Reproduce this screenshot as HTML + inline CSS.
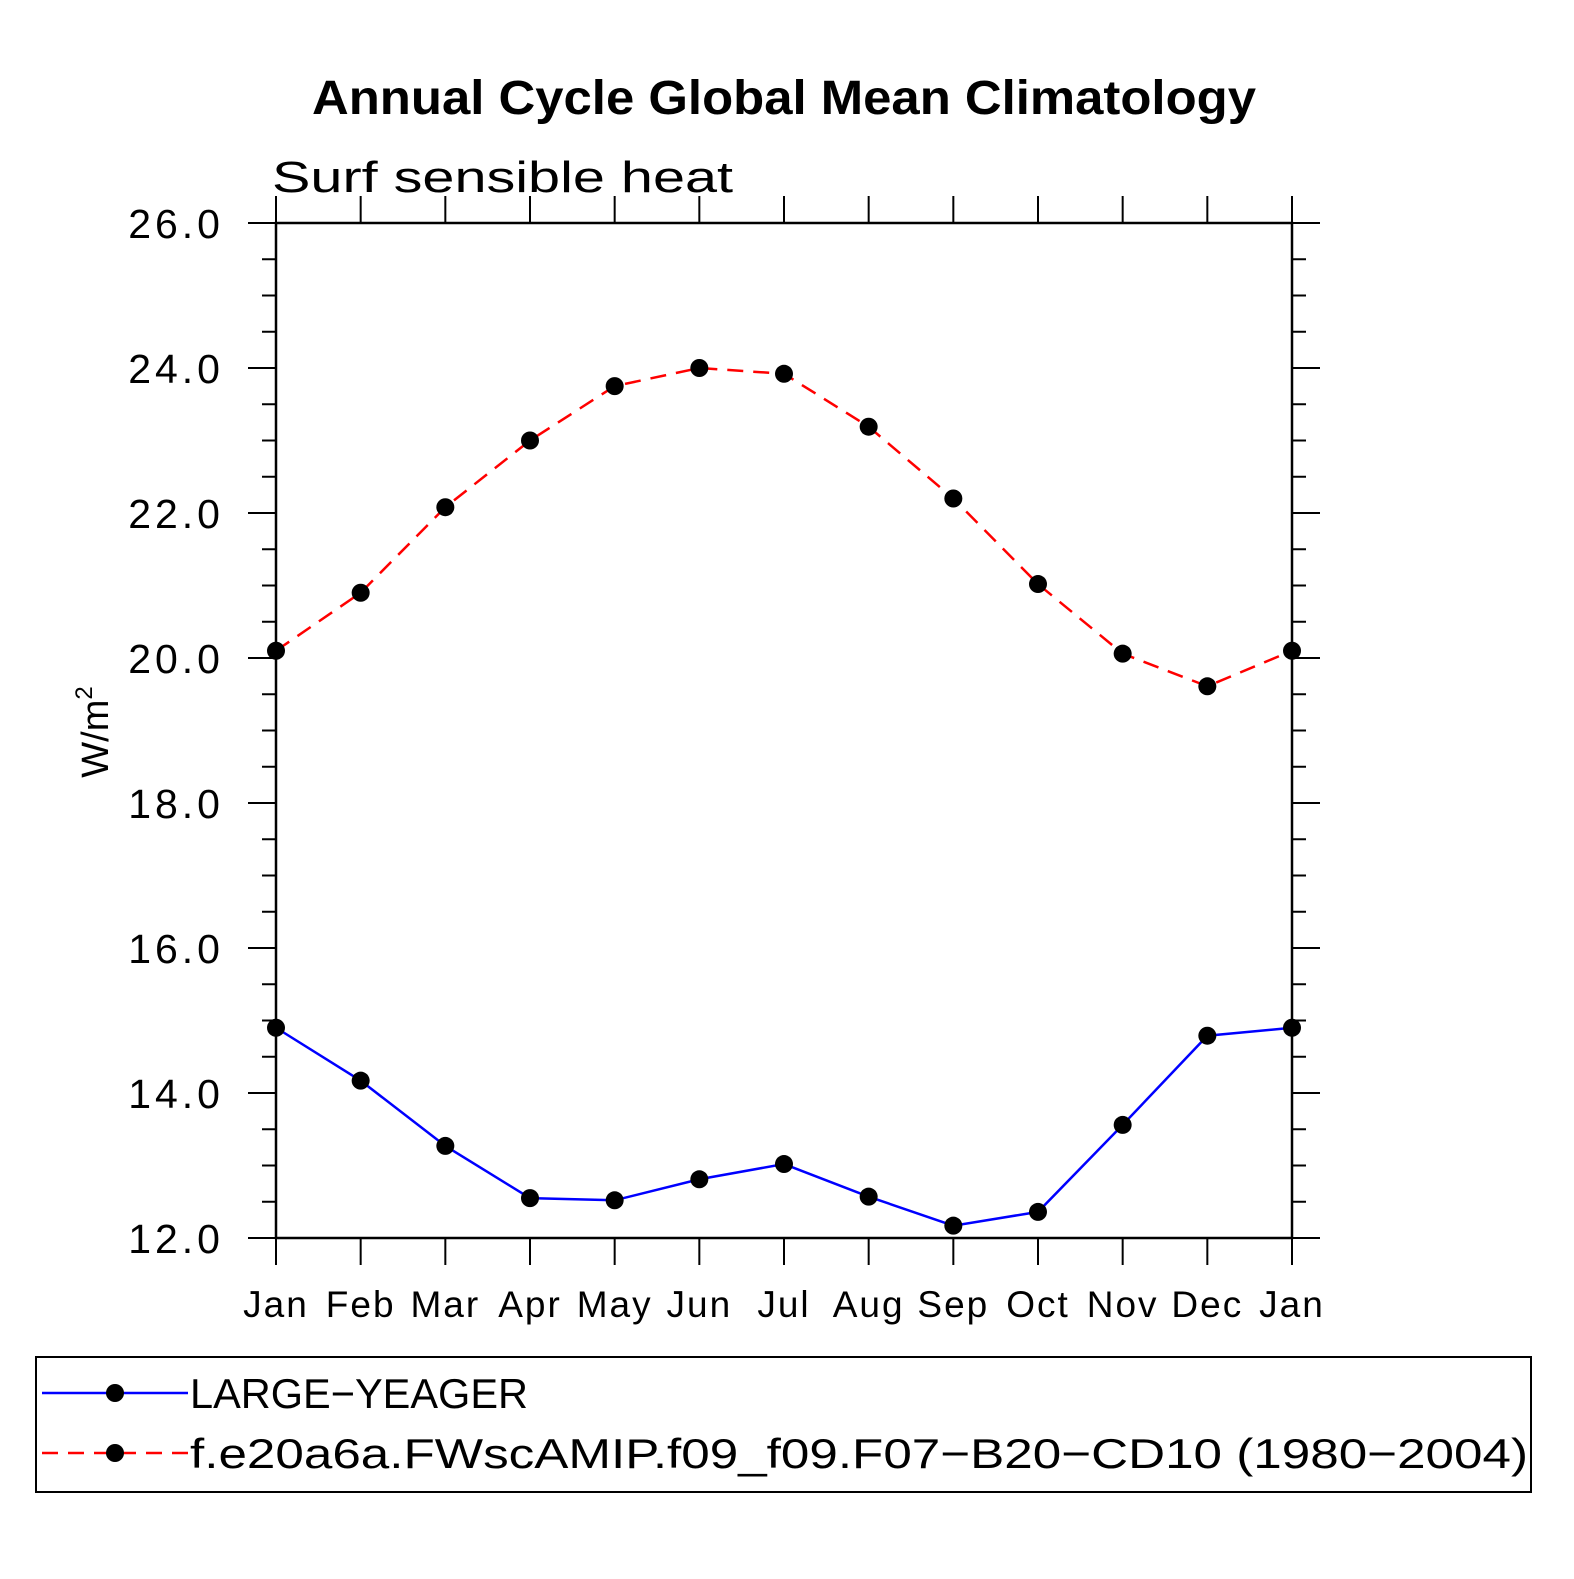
<!DOCTYPE html>
<html><head><meta charset="utf-8"><style>
body{margin:0;background:#fff}
svg text{font-family:"Liberation Sans",sans-serif}
</style></head><body>
<svg id="c" width="1574" height="1574" xmlns="http://www.w3.org/2000/svg">
<text x="312" y="114" font-size="48" font-weight="bold" textLength="944" lengthAdjust="spacingAndGlyphs">Annual Cycle Global Mean Climatology</text>
<text x="272" y="192" font-size="44" textLength="461" lengthAdjust="spacingAndGlyphs">Surf sensible heat</text>
<text transform="translate(108,732) rotate(-90)" text-anchor="middle" font-size="38">W/m<tspan dy="-16" font-size="24">2</tspan></text>
<g id="axes"></g>
<g id="series"></g>
<rect x="36" y="1357" width="1495" height="135" fill="none" stroke="#000" stroke-width="2"/>
<g>
<line x1="42" y1="1393" x2="188" y2="1393" stroke="#00f" stroke-width="2.5"/>
<circle cx="115" cy="1393" r="9"/>
<text x="190" y="1408" font-size="42" textLength="338" lengthAdjust="spacingAndGlyphs">LARGE−YEAGER</text></g>
<g>
<line x1="42" y1="1453" x2="188" y2="1453" stroke="#f00" stroke-width="2.5" stroke-dasharray="16,10"/>
<circle cx="115" cy="1453" r="9"/>
<text x="190" y="1468" font-size="42" textLength="1338" lengthAdjust="spacingAndGlyphs">f.e20a6a.FWscAMIP.f09_f09.F07−B20−CD10 (1980−2004)</text></g>
</svg>
<script>
const months=["Jan","Feb","Mar","Apr","May","Jun","Jul","Aug","Sep","Oct","Nov","Dec","Jan"];
const yTicks=[12,14,16,18,20,22,24,26];
const obsValues=[14.9,14.17,13.27,12.55,12.52,12.81,13.02,12.57,12.17,12.36,13.56,14.79,14.9];
const modelValues=[20.1,20.9,22.08,23.0,23.75,24.0,23.92,23.19,22.2,21.02,20.06,19.61,20.1];
const X0=276,X1=1292,Y0=1238,Y1=223;
const xs=i=>X0+(X1-X0)*i/12;
const ys=v=>Y0-(v-12)*(Y0-Y1)/14;
const NS="http://www.w3.org/2000/svg";
function mk(t,a,p){const e=document.createElementNS(NS,t);for(const k in a)e.setAttribute(k,a[k]);p.appendChild(e);return e;}
const ax=document.getElementById('axes');
const frame=mk('rect',{x:X0,y:Y1,width:X1-X0,height:Y0-Y1,fill:'none',stroke:'#000','stroke-width':2.5},ax);


for(let v=12;v<=26.001;v+=0.5){
 const y=ys(v);const major=Math.abs(v%2)<1e-6;const L=major?28:14;
 mk('line',{x1:X0-L,y1:y,x2:X0,y2:y,stroke:'#000','stroke-width':2},ax);
 mk('line',{x1:X1,y1:y,x2:X1+L,y2:y,stroke:'#000','stroke-width':2},ax);
}
yTicks.forEach(v=>{
 const t=mk('text',{x:224,y:ys(v)+15,'text-anchor':'end','font-size':41,'letter-spacing':4},ax);
 t.textContent=v.toFixed(1);
 
 
});
months.forEach((m,i)=>{
 const x=xs(i);
 mk('line',{x1:x,y1:Y1-27,x2:x,y2:Y1,stroke:'#000','stroke-width':2},ax);
 mk('line',{x1:x,y1:Y0,x2:x,y2:Y0+27,stroke:'#000','stroke-width':2},ax);
 const t=mk('text',{x:x,y:1317,'text-anchor':'middle','font-size':37,'letter-spacing':2},ax);
 t.textContent=m;
 
 
});
const sg=document.getElementById('series');
function draw(vals,color,dash,name){
 const g=mk('g',{},sg);
 
 
 const pts=vals.map((v,i)=>xs(i)+','+ys(v)).join(' ');
 const a={points:pts,fill:'none',stroke:color,'stroke-width':2.5};
 if(dash)a['stroke-dasharray']='16,10';
 mk('polyline',a,g);
 vals.forEach((v,i)=>{const c=mk('circle',{cx:xs(i),cy:ys(v),r:9},g);
  
  });
}
draw(obsValues,'#00f',false,'series-large-yeager');
draw(modelValues,'#f00',true,'series-model');
</script>
</body></html>
